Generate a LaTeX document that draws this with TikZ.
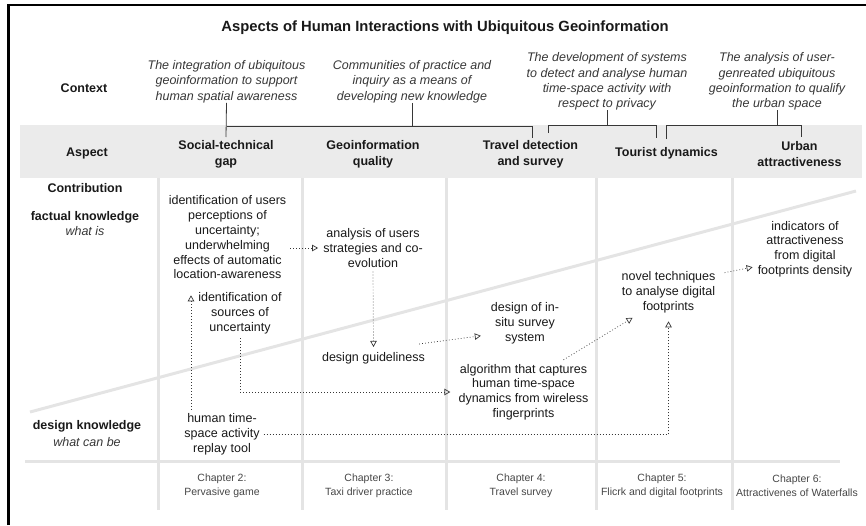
\documentclass[tikz,border=0pt]{standalone}
\usepackage{fontspec}
\setmainfont{Liberation Sans}
\usetikzlibrary{arrows.meta}
\definecolor{band}{RGB}{235,235,235}
\definecolor{gridc}{RGB}{228,228,228}
\definecolor{ink}{RGB}{25,25,25}
\definecolor{soft}{RGB}{55,55,55}
\definecolor{chap}{RGB}{70,70,70}
\begin{document}
\begin{tikzpicture}[x=1pt,y=-1pt,
  every node/.style={text=ink, inner sep=0pt},
  titletext/.style={font=\fontsize{14.8}{17}\selectfont\bfseries},
  rowlabel/.style={font=\fontsize{12.5}{15}\selectfont\bfseries, align=center},
  rowsub/.style={font=\fontsize{12.5}{15}\selectfont\itshape, text=soft},
  ctx/.style={font=\fontsize{12.5}{15.3}\selectfont\itshape, align=center, text=soft},
  aspect/.style={font=\fontsize{12.5}{16}\selectfont\bfseries, align=center},
  contrib/.style={font=\fontsize{12.5}{14.8}\selectfont, align=center, inner sep=4pt},
  chapter/.style={font=\fontsize{10.5}{14}\selectfont, align=center, text=chap},
  gridline/.style={draw=gridc, line width=3pt},
  bracket/.style={draw=soft, line width=0.8pt},
  flow/.style={draw=soft, line width=0.7pt, dash pattern=on 0.8pt off 2.2pt,
    -{Triangle[open, length=6pt, width=6.5pt, line width=0.7pt, sep=0pt]}, shorten >=1pt},
]
\useasboundingbox (0,0) rectangle (866,525);

% frame
\draw[line width=2.5pt] (8.7,525) -- (8.7,5) -- (866,5);

% aspect band and grid
\fill[band] (20,125) rectangle (862,178);
\foreach \x in {158,302,446,596,732}
  \draw[gridline] (\x,178) -- (\x,510);
\draw[gridline] (25,461) -- (840,461);
\draw[gridline] (30,412) -- (856,191);

% title
\node[titletext] (title) at (445,28) {Aspects of Human Interactions with Ubiquitous Geoinformation};

% row labels
\node[rowlabel] (lctx) at (84,88) {Context};
\node[rowlabel] (lasp) at (87,153) {Aspect};
\node[rowlabel] (lcon) at (85,188) {Contribution};
\node[rowlabel] (lfact) at (85,217) {factual knowledge};
\node[rowsub] (lfactsub) at (85,231) {what is};
\node[rowlabel] (ldes) at (87,426) {design knowledge};
\node[rowsub] (ldessub) at (87,442) {what can be};

% contexts
\node[ctx] (c1) at (226.5,81.5) {The integration of ubiquitous\\geoinformation to support\\human spatial awareness};
\node[ctx] (c2) at (412,81.5) {Communities of practice and\\inquiry as a means of\\developing new knowledge};
\node[ctx] (c3) at (607,81.5) {The development of systems\\to detect and analyse human\\time-space activity with\\respect to privacy};
\node[ctx] (c4) at (777,81.5) {The analysis of user-\\genreated ubiquitous\\geoinformation to qualify\\the urban space};

% aspects
\node[aspect] (a1) at (226,154) {Social-technical\\gap};
\node[aspect] (a2) at (373,154) {Geoinformation\\quality};
\node[aspect] (a3) at (530.5,154) {Travel detection\\and survey};
\node[aspect] (a4) at (666.5,153) {Tourist dynamics};
\node[aspect] (a5) at (799.5,154) {Urban\\attractiveness};

% bracket ends
\coordinate (bar1) at (0,126);
\coordinate (bar2) at (0,125);
\coordinate (k1) at (226,137);
\coordinate (k2) at (532,138);
\coordinate (k3) at (548,133);
\coordinate (k4) at (656,138);
\coordinate (k5) at (666,139);
\coordinate (k6) at (801,137);

\draw[bracket] (c1.south) -- (k1);
\draw[bracket] (c1.south |- bar1) -| (k2);
\draw[bracket] (c2.south) -- (c2.south |- bar1);
\draw[bracket] (c3.south) -- (c3.south |- bar2);
\draw[bracket] (k3) |- (k4 |- bar2) -- (k4);
\draw[bracket] (c4.south) -- (c4.south |- bar2);
\draw[bracket] (k5) |- (k6 |- bar2) -- (k6);

% contributions
\node[contrib] (A) at (227.5,237.5) {identification of users\\perceptions of\\uncertainty;\\underwhelming\\effects of automatic\\location-awareness};
\node[contrib] (B) at (240,313.5) {identification of\\sources of\\uncertainty};
\node[contrib] (C) at (222,434.5) {human time-\\space activity\\replay tool};
\node[contrib] (D) at (373,248) {analysis of users\\strategies and co-\\evolution};
\node[contrib] (F) at (373.5,358) {design guideliness};
\node[contrib] (G) at (525,323) {design of in-\\situ survey\\system};
\node[contrib] (H) at (523.5,392) {algorithm that captures\\human time-space\\dynamics from wireless\\fingerprints};
\node[contrib] (E) at (668.5,292.5) {novel techniques\\to analyse digital\\footprints};
\node[contrib] (I) at (805,249) {indicators of\\attractiveness\\from digital\\footprints density};

% chapters
\node[chapter] (ch2) at (222,486) {Chapter 2:\\Pervasive game};
\node[chapter] (ch3) at (369,486) {Chapter 3:\\Taxi driver practice};
\node[chapter] (ch4) at (521,486) {Chapter 4:\\Travel survey};
\node[chapter] (ch5) at (662,486) {Chapter 5:\\Flicrk and digital footprints};
\node[chapter] (ch6) at (797,486) {Chapter 6:\\Attractivenes of Waterfalls};

% links between contributions
\draw[flow] (A.east |- D.west) -- (D.west);
\draw[flow, shorten >=12pt] ([xshift=-31pt]C.north) -- ([xshift=-31pt]C.north |- A.south);
\draw[flow, shorten >=4pt] (B.south) |- (H.west);
\draw[flow, shorten >=4pt] (C.east) -| (E.south);
\draw[flow] (D.south) -- (F.north);
\draw[flow, shorten >=6pt] ([xshift=-10pt,yshift=4pt]F.north east) -- ([yshift=-12pt]G.west);
\draw[flow] ([xshift=40pt]H.north) -- ([xshift=16pt]E.south west);
\draw[flow] ([xshift=5pt,yshift=-5pt]E.north east) -- ([yshift=-18pt]I.west);
\end{tikzpicture}
\end{document}
